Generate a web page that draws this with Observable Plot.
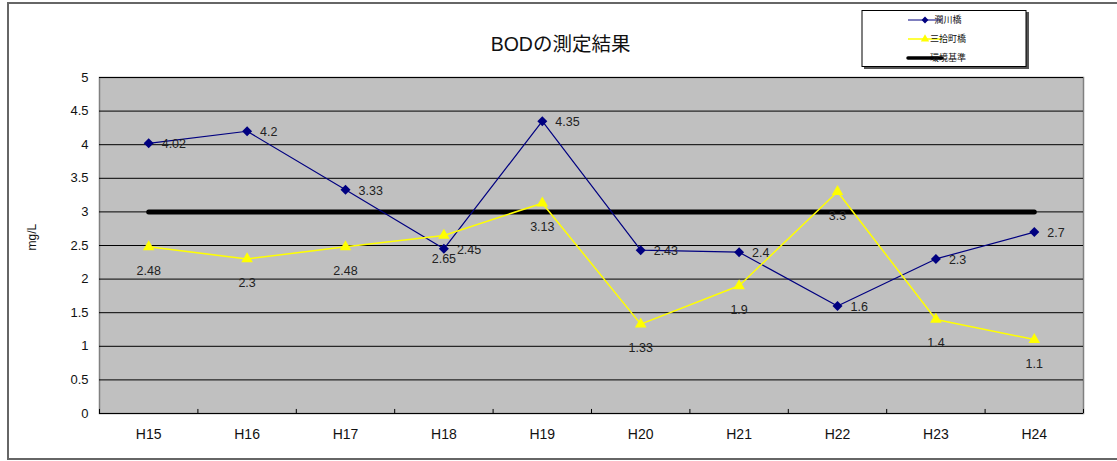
<!DOCTYPE html>
<html>
<head>
<meta charset="utf-8">
<script src="https://cdn.jsdelivr.net/npm/d3@7"></script>
<script src="https://cdn.jsdelivr.net/npm/@observablehq/plot@0.6"></script>
<style>
  html, body { margin: 0; padding: 0; background: #fff; }
  svg { display: block; }
</style>
</head>
<body>
<div id="chart"></div>
<script>
const categories = ["H15", "H16", "H17", "H18", "H19", "H20", "H21", "H22", "H23", "H24"];
const uruigawa = [4.02, 4.2, 3.33, 2.45, 4.35, 2.43, 2.4, 1.6, 2.3, 2.7];
const sanjucho = [2.48, 2.3, 2.48, 2.65, 3.13, 1.33, 1.9, 3.3, 1.4, 1.1];
const standard = [3, 3, 3, 3, 3, 3, 3, 3, 3, 3];
const yTicks = [0, 0.5, 1, 1.5, 2, 2.5, 3, 3.5, 4, 4.5, 5];
const seriesNames = ["潤川橋", "三拾町橋", "環境基準"];
const titleText = "BODの測定結果";
const yLabel = "mg/L";

const FONT = "'Liberation Sans', 'Noto Sans CJK JP', sans-serif";

const rowsA = categories.map((c, i) => ({i, c, v: uruigawa[i]}));
const rowsB = categories.map((c, i) => ({i, c, v: sanjucho[i]}));
const rowsS = categories.map((c, i) => ({i, c, v: standard[i]}));
const boundaries = d3.range(categories.length + 1).map(i => i - 0.5);

const svg = Plot.plot({
  width: 1117,
  height: 461,
  marginLeft: 99,
  marginRight: 34,
  marginTop: 77,
  marginBottom: 48,
  style: {background: "transparent", fontFamily: FONT, fontSize: "12px", color: "#000", overflow: "visible"},
  x: {type: "linear", domain: [-0.5, categories.length - 0.5], label: null},
  y: {domain: [0, 5], label: null},
  marks: [
    Plot.frame({fill: "#c0c0c0", stroke: "#808080", strokeWidth: 1.5}),
    Plot.ruleY(yTicks, {stroke: "#000", strokeWidth: 1}),
    Plot.ruleX(boundaries, {y1: 0, y2: 0.06, stroke: "#000", strokeWidth: 1}),
    Plot.axisX({ticks: d3.range(categories.length), tickFormat: i => categories[i], tickSize: 0,
      tickPadding: 16, fontSize: 14, fill: "#111", label: null, letterSpacing: "0.5px"}),
    Plot.axisY({ticks: yTicks, tickFormat: d => String(d), tickSize: 0, tickPadding: 11,
      fontSize: 13, fill: "#111", label: null}),
    Plot.line(rowsS, {x: "i", y: "v", stroke: "#000", strokeWidth: 5, strokeLinecap: "round"}),
    Plot.line(rowsA, {x: "i", y: "v", stroke: "#000080", strokeWidth: 1.2}),
    Plot.dot(rowsA, {x: "i", y: "v", symbol: "diamond2", r: 4.5, fill: "#000080", stroke: "none"}),
    Plot.line(rowsB, {x: "i", y: "v", stroke: "#ffff00", strokeWidth: 1.5}),
    Plot.dot(rowsB, {x: "i", y: "v", symbol: "triangle", r: 4.3, fill: "#ffff00", stroke: "none"}),
    Plot.text(rowsA, {x: "i", y: "v", text: d => String(d.v), textAnchor: "start", dx: 13, dy: 1,
      fontSize: 12.5, fill: "#222"}),
    Plot.text(rowsB, {x: "i", y: "v", text: d => String(d.v), textAnchor: "middle", dy: 24,
      fontSize: 12.5, fill: "#222"}),
    Plot.text([titleText], {frameAnchor: "top", dx: -31, dy: -40, fontSize: 19.5, fill: "#111"}),
    Plot.text([yLabel], {frameAnchor: "left", dx: -67, dy: 5, rotate: -90, fontSize: 12, fill: "#111",
      letterSpacing: "1.5px"})
  ]
});

// outer chart border
const s = d3.select(svg);
s.append("rect").attr("x", 8).attr("y", 3).attr("width", 1120).attr("height", 456)
  .attr("fill", "none").attr("stroke", "#666").attr("stroke-width", 2);

// legend
const lg = s.append("g").attr("font-family", FONT);
lg.append("rect").attr("x", 864).attr("y", 12).attr("width", 165).attr("height", 57).attr("fill", "#555");
lg.append("rect").attr("x", 862).attr("y", 10.5).attr("width", 164).attr("height", 56)
  .attr("fill", "#fff").attr("stroke", "#000").attr("stroke-width", 1);
const ly = [20, 39, 58];
lg.append("line").attr("x1", 908).attr("x2", 942).attr("y1", ly[0]).attr("y2", ly[0]).attr("stroke", "#000080").attr("stroke-width", 1.2);
lg.append("path").attr("d", d3.symbol(d3.symbolDiamond2, 30)()).attr("transform", `translate(925,${ly[0]})`).attr("fill", "#000080");
lg.append("line").attr("x1", 908).attr("x2", 942).attr("y1", ly[1]).attr("y2", ly[1]).attr("stroke", "#ffff00").attr("stroke-width", 1.5);
lg.append("path").attr("d", d3.symbol(d3.symbolTriangle, 30)()).attr("transform", `translate(925,${ly[1]})`).attr("fill", "#ffff00");
lg.append("line").attr("x1", 908).attr("x2", 942).attr("y1", ly[2]).attr("y2", ly[2]).attr("stroke", "#000").attr("stroke-width", 3.5).attr("stroke-linecap", "round");
seriesNames.forEach((n, k) => {
  lg.append("text").attr("x", 948).attr("y", ly[k]).attr("dy", "0.35em").attr("font-size", 9).attr("fill", "#111").text(n);
});

document.getElementById("chart").appendChild(svg);
</script>
</body>
</html>
